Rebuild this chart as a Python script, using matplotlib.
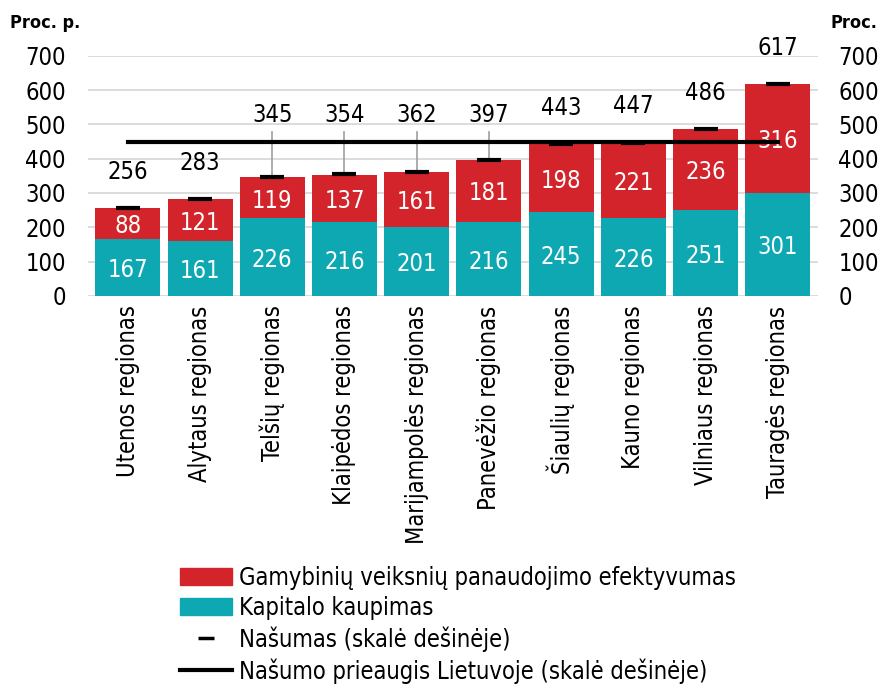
import matplotlib.pyplot as plt
from matplotlib.patches import Patch
from matplotlib.lines import Line2D
import numpy as np

plt.rcParams['font.family'] = ['DejaVu Sans']
plt.rcParams['font.stretch'] = 'condensed'

# data
regions = ['Utenos regionas', 'Alytaus regionas', 'Telšių regionas', 'Klaipėdos regionas',
           'Marijampolės regionas', 'Panevėžio regionas', 'Šiaulių regionas',
           'Kauno regionas', 'Vilniaus regionas', 'Tauragės regionas']
kapitalas = [167, 161, 226, 216, 201, 216, 245, 226, 251, 301]
efektyvumas = [88, 121, 119, 137, 161, 181, 198, 221, 236, 316]
nasumas = [256, 283, 345, 354, 362, 397, 443, 447, 486, 617]
lietuva = 449

red = '#D3232B'
teal = '#0EA8B3'

fig = plt.figure(figsize=(8.81, 6.88), dpi=100)
ax = fig.add_axes([0.1, 0.570, 0.828, 0.349])
x = np.arange(len(regions))

ax.bar(x, kapitalas, width=0.9, color=teal, zorder=2)
ax.bar(x, efektyvumas, width=0.9, bottom=kapitalas, color=red, zorder=2)

for i in range(len(regions)):
    ax.text(x[i], kapitalas[i] / 2 - 8, str(kapitalas[i]), ha='center', va='center',
            color='white', fontsize=17, zorder=5)
    ax.text(x[i], kapitalas[i] + efektyvumas[i] / 2 - 8, str(efektyvumas[i]), ha='center',
            va='center', color='white', fontsize=17, zorder=5)

ax.set_ylim(0, 700)
ax.set_xlim(-0.55, len(regions) - 0.45)
ax.set_yticks(range(0, 701, 100))
ax.grid(axis='y', color='#d9d9d9', linewidth=1.3, zorder=0)
for s in ax.spines.values():
    s.set_visible(False)
ax.tick_params(axis='both', length=0, labelsize=17)
ax.tick_params(axis='y', pad=16)
ax.set_xticks(x)
ax.set_xticklabels(regions, rotation=90, fontsize=17)
ax.tick_params(axis='x', pad=7)

# right axis
ax2 = ax.twinx()
ax2.set_ylim(0, 700)
ax2.set_yticks(range(0, 701, 100))
for s in ax2.spines.values():
    s.set_visible(False)
ax2.tick_params(axis='y', length=0, labelsize=17, pad=15)

ax2.plot([x[0], x[-1]], [lietuva, lietuva], color='black', linewidth=3, zorder=4)
ax2.plot(x, nasumas, linestyle='none', marker='_', markersize=17, markeredgewidth=3,
         color='black', zorder=5)

# labels above bars, lifted over the Lithuania line where they would collide
for i, v in enumerate(nasumas):
    ly = v + 105
    if abs(ly - lietuva) < 58:
        ly = 528
        ax2.plot([x[i], x[i]], [v, 477], color='#a6a6a6', linewidth=1.3, zorder=3)
    ax2.text(x[i], ly, str(v), ha='center', va='center', fontsize=17, clip_on=False)

fig.text(0.011, 0.967, 'Proc. p.', fontsize=13, fontweight='bold', va='center')
fig.text(0.943, 0.967, 'Proc.', fontsize=13, fontweight='bold', va='center')

handles = [Patch(color=red), Patch(color=teal),
           Line2D([], [], linestyle='none', marker='_', markersize=12, markeredgewidth=2.5, color='black'),
           Line2D([], [], color='black', linewidth=3)]
labels = ['Gamybinių veiksnių panaudojimo efektyvumas', 'Kapitalo kaupimas',
          'Našumas (skalė dešinėje)', 'Našumo prieaugis Lietuvoje (skalė dešinėje)']
fig.legend(handles, labels, loc='upper left', bbox_to_anchor=(0.204, 0.178), frameon=False,
           fontsize=17, handlelength=2.2, handletextpad=0.3, labelspacing=0.27,
           borderpad=0, borderaxespad=0, handleheight=0.75)

fig.savefig('out.png', dpi=100)
